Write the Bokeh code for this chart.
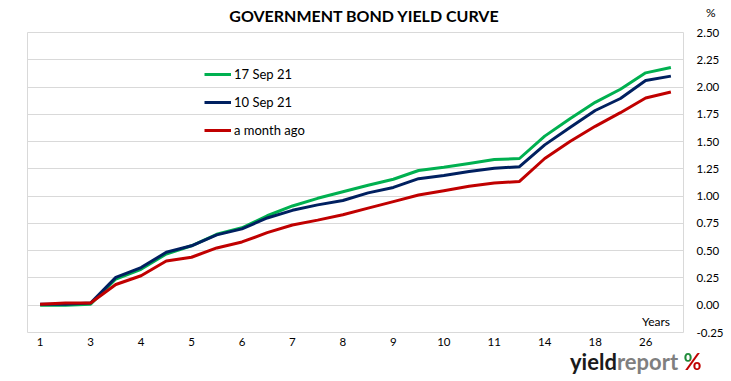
from bokeh.plotting import figure
from bokeh.layouts import column
from bokeh.models import Range1d, FixedTicker, NumeralTickFormatter, Label, Legend, LegendItem, Div
from bokeh.embed import file_html
from bokeh.resources import INLINE

# ---- data ----
tick_labels = ["1", "3", "4", "5", "6", "7", "8", "9", "10", "11", "14", "18", "26"]
x_idx = list(range(26))
sep17 = [0.00, 0.00, 0.01, 0.24, 0.33, 0.47, 0.545, 0.65, 0.71, 0.82, 0.91, 0.98, 1.04,
         1.10, 1.155, 1.235, 1.265, 1.30, 1.335, 1.345, 1.55, 1.71, 1.86, 1.98, 2.13, 2.18]
sep10 = [0.01, 0.01, 0.02, 0.255, 0.345, 0.485, 0.545, 0.645, 0.70, 0.80, 0.87, 0.92, 0.96,
         1.03, 1.08, 1.16, 1.19, 1.225, 1.255, 1.27, 1.47, 1.63, 1.785, 1.895, 2.06, 2.10]
month_ago = [0.01, 0.02, 0.02, 0.19, 0.27, 0.405, 0.44, 0.525, 0.58, 0.665, 0.735, 0.78, 0.83,
             0.89, 0.95, 1.01, 1.05, 1.09, 1.12, 1.135, 1.345, 1.50, 1.64, 1.765, 1.90, 1.955]
y_ticks = [-0.25, 0.0, 0.25, 0.5, 0.75, 1.0, 1.25, 1.5, 1.75, 2.0, 2.25, 2.5]
series_names = ["17 Sep 21", "10 Sep 21", "a month ago"]
series_colors = ["#00B050", "#002060", "#C00000"]
title_text = "GOVERNMENT BOND YIELD CURVE"

FONT = "Lato"
W = 731
H_HEAD, H_MAIN, H_FOOT = 24, 330, 27

# ---- header (title and unit) ----
head_html = (
    '<div style="position:relative;width:731px;height:24px;">'
    '<span style="position:absolute;left:0;top:8px;width:728px;text-align:center;'
    'font-family:Lato;font-weight:bold;font-size:16px;line-height:16px;color:#000;white-space:nowrap;">'
    + title_text + '</span>'
    '<span style="position:absolute;left:706px;top:7px;font-family:Lato;font-size:12px;'
    'line-height:12px;color:#000;">%</span>'
    '</div>'
)
head = Div(text=head_html, width=W, height=H_HEAD, margin=0)

# ---- main chart ----
p = figure(width=W, height=H_MAIN, output_backend="svg", toolbar_location=None,
           x_range=Range1d(-0.5, 25.5), y_range=Range1d(-0.25, 2.5),
           y_axis_location="right",
           min_border_left=27, min_border_right=48, min_border_top=8, min_border_bottom=22)
p.outline_line_color = "#D9D9D9"
p.outline_line_width = 1
p.background_fill_color = "white"
p.border_fill_color = "white"

p.xgrid.visible = False
p.ygrid.ticker = FixedTicker(ticks=y_ticks)
p.ygrid.grid_line_color = "#D9D9D9"
p.ygrid.grid_line_width = 1

p.xaxis.ticker = FixedTicker(ticks=[i * 2 for i in range(len(tick_labels))])
p.xaxis.major_label_overrides = {i * 2: t for i, t in enumerate(tick_labels)}
p.xaxis.axis_line_color = None
p.xaxis.major_tick_line_color = None
p.xaxis.minor_tick_line_color = None
p.xaxis.major_tick_out = 0
p.xaxis.major_label_standoff = 5
p.xaxis.major_label_text_font = FONT
p.xaxis.major_label_text_font_size = "11.5px"
p.xaxis.major_label_text_color = "black"

p.yaxis.ticker = FixedTicker(ticks=y_ticks)
p.yaxis.formatter = NumeralTickFormatter(format="0.00")
p.yaxis.axis_line_color = None
p.yaxis.major_tick_line_color = None
p.yaxis.minor_tick_line_color = None
p.yaxis.major_tick_out = 0
p.yaxis.major_label_standoff = 13
p.yaxis.major_label_text_font = FONT
p.yaxis.major_label_text_font_size = "11.5px"
p.yaxis.major_label_text_color = "black"

renderers = []
for ys, c in zip([sep17, sep10, month_ago], series_colors):
    renderers.append(p.line(x_idx, ys, line_color=c, line_width=3))

legend = Legend(items=[LegendItem(label=n, renderers=[r]) for n, r in zip(series_names, renderers)],
                location=(177, 192), background_fill_alpha=0, border_line_color=None,
                padding=0, margin=0, spacing=8, glyph_width=27, glyph_height=20,
                label_height=20, label_standoff=3,
                label_text_font=FONT, label_text_font_size="13px", label_text_color="black")
p.add_layout(legend, "center")

p.add_layout(Label(x=614.5, y=11, x_units="screen", y_units="screen", text="Years",
                   text_font=FONT, text_font_size="12px", text_color="black",
                   text_baseline="middle"))

# ---- footer (logo) ----
foot_html = (
    '<div style="position:relative;width:731px;height:27px;">'
    '<span style="position:absolute;left:570px;top:0;font-family:Lato;font-weight:bold;'
    'font-size:22px;line-height:16px;white-space:nowrap;">'
    '<span style="color:#1a1a1a;">yield</span>'
    '<span style="color:#7f7f7f;">report</span> '
    '<span style="color:#C00000;background:linear-gradient(135deg,#1E8B3A 43%,#C00000 43%);'
    '-webkit-background-clip:text;background-clip:text;-webkit-text-fill-color:transparent;">%</span>'
    '</span></div>'
)
foot = Div(text=foot_html, width=W, height=H_FOOT, margin=0)

layout = column(head, p, foot, spacing=0)
open("out.html", "w").write(file_html(layout, INLINE))
